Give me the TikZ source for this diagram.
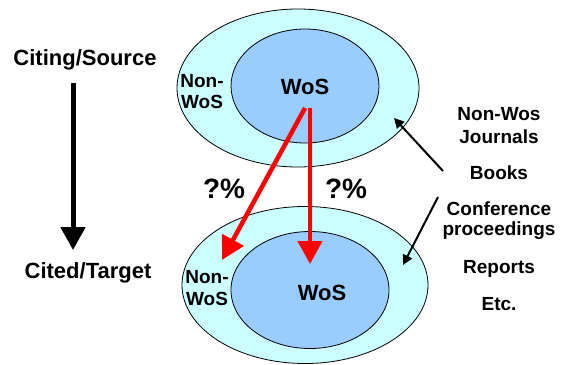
\documentclass[tikz,border=0pt]{standalone}
\usepackage{fontspec}
\setmainfont{Liberation Sans}
\usetikzlibrary{shapes.geometric,arrows.meta,positioning}
\definecolor{paleCyan}{HTML}{CCFFFF}
\definecolor{paleBlue}{HTML}{99CCFF}

\begin{document}
\begin{tikzpicture}[x=1pt,y=-1pt,
    ring/.style={draw,ellipse,fill=paleCyan,inner sep=0pt,line width=0.8pt},
    core/.style={draw,ellipse,fill=paleBlue,inner sep=0pt,line width=0.8pt},
    lab/.style={font=\fontsize{19}{21}\selectfont\bfseries,inner sep=0pt,anchor=base},
    side/.style={font=\fontsize{19}{21}\selectfont\bfseries,inner sep=0pt,anchor=base},
    big/.style={font=\fontsize{22}{24}\selectfont\bfseries,inner sep=0pt,anchor=base},
    pct/.style={font=\fontsize{28}{30}\selectfont\bfseries,inner sep=0pt,anchor=base},
    flow/.style={draw=red,line width=4.5pt,-{Triangle[length=23pt,width=24pt]}},
    hint/.style={draw,line width=2pt,-{Triangle[length=10pt,width=10pt]}}]
    \useasboundingbox (0,0) rectangle (561,364);

    % source side
    \node [ring,minimum width=242pt,minimum height=158pt] (srcAll) at (298,88) {};
    \node [core,minimum width=148pt,minimum height=114pt] (srcWos) at (305,86) {};
    \node [big] (srcWosLab) at (305,94) {WoS};
    \node [lab] (srcNon1) at (202,87) {Non-};
    \node [lab] (srcNon2) at (202,108) {WoS};

    % target side
    \node [ring,minimum width=246pt,minimum height=157pt] (tgtAll) at (305,285) {};
    \node [core,minimum width=158pt,minimum height=117pt] (tgtWos) at (310,290) {};
    \node [big] (tgtWosLab) at (322,300) {WoS};
    \node [lab] (tgtNon1) at (207,283) {Non-};
    \node [lab] (tgtNon2) at (207,305) {WoS};

    % left labels
    \node [big] (citing) at (85,65) {Citing/Source};
    \node [big] (cited) at (88,278) {Cited/Target};
    \coordinate (dirTop) at (73,83);
    \coordinate (dirEnd) at (73,250);
    \draw [line width=5pt,-{Triangle[length=23pt,width=24pt]}] (dirTop) -- (dirEnd);

    % share arrows
    \coordinate (fromL) at (305,108);
    \coordinate (fromR) at (310,108);
    \coordinate (toNon) at (222,260);
    \coordinate (toWos) at (310,264);
    \path (fromL) edge [flow] (toNon)
          (fromR) edge [flow] (toWos);
    \node [pct] (pctL) at (224,198) {?\%};
    \node [pct] (pctR) at (346,198) {?\%};

    % right list
    \node [side] (jour1) at (499,120) {Non-Wos};
    \node [side] (jour2) at (499,143) {Journals};
    \node [side] (books) at (499,179) {Books};
    \node [side] (conf1) at (499,215) {Conference};
    \node [side] (conf2) at (499,235) {proceedings};
    \node [side] (reps) at (499,273) {Reports};
    \node [side] (etc) at (499,310) {Etc.};

    \coordinate (upFrom) at (443,171);
    \coordinate (upTo) at (394,118);
    \coordinate (dnFrom) at (438,197);
    \coordinate (dnTo) at (403,265);
    \path (upFrom) edge [hint] (upTo)
          (dnFrom) edge [hint] (dnTo);
\end{tikzpicture}
\end{document}
